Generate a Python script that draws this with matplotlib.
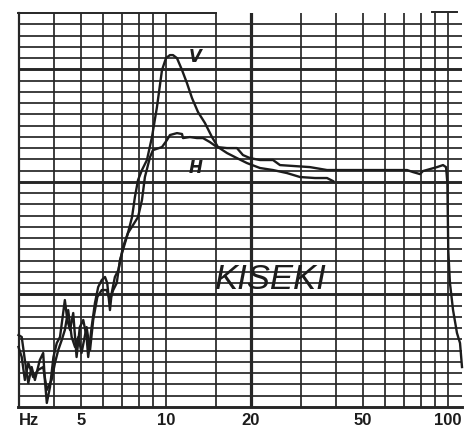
import matplotlib
matplotlib.use("Agg")
import matplotlib.pyplot as plt
import numpy as np

# ---------------- data ----------------
# Vertical (V) response: frequency (Hz), level (dB, relative)
v_freq = [3.0, 3.08, 3.16, 3.25, 3.34, 3.43, 3.57, 3.67, 3.72, 3.78, 3.88, 3.99,
          4.10, 4.21, 4.32, 4.38, 4.47, 4.57, 4.69, 4.76, 4.82, 4.95, 5.09, 5.23,
          5.30, 5.45, 5.60, 5.75, 5.92, 6.08, 6.19, 6.33, 6.42, 6.59, 6.78,
          6.87, 7.04, 7.33, 7.58, 7.76, 7.96, 8.22, 8.56, 8.92, 9.29, 9.68,
          10.0, 10.33, 10.59, 10.94, 11.40, 11.87, 12.37, 12.99, 13.75, 14.56,
          15.29, 16.46, 17.85, 19.37, 21.54, 23.96, 26.86, 29.87, 33.76, 37.24, 39.10]
v_level = [6.39, 6.22, 4.17, 2.13, 3.55, 2.40, 4.17, 4.80, 2.40, 0.36, 1.78, 4.44,
           5.68, 6.22, 8.35, 9.50, 7.73, 6.84, 8.35, 6.22, 4.44, 7.10, 7.73, 6.22,
           4.44, 7.10, 9.24, 10.66, 11.28, 11.55, 11.01, 8.61, 10.12, 11.55, 12.17,
           12.88, 14.21, 15.45, 16.87, 18.65, 20.16, 21.05, 21.94, 23.98, 26.64, 29.93,
           30.99, 31.26, 31.26, 30.99, 29.93, 28.77, 27.44, 26.20, 25.22, 23.98,
           23.09, 22.56, 22.11, 21.67, 21.23, 21.05, 20.78, 20.43, 20.34, 20.34, 20.07]

# Horizontal (H) response
h_freq = [3.0, 3.08, 3.16, 3.25, 3.38, 3.52, 3.67, 3.78, 3.93, 4.04, 4.15, 4.27,
          4.38, 4.50, 4.63, 4.76, 4.89, 5.02, 5.23, 5.38, 5.52, 5.71, 5.92, 6.16,
          6.33, 6.50, 6.69,
          6.87, 7.33, 7.64, 7.96, 8.22, 8.42, 8.78, 8.99, 9.68, 10.08, 10.33, 10.94,
          11.40, 11.49, 12.16, 12.88, 13.53, 14.32, 15.16, 16.46, 17.85, 18.75,
          19.86, 21.54, 23.96, 25.37, 32.40, 37.24, 71.55, 75.15, 79.55, 81.52,
          91.42, 96.0, 98.4, 99.5, 100.2, 101.6, 104.2, 107.6, 110.3, 112.1]
h_level = [5.33, 4.44, 2.40, 3.91, 2.66, 3.29, 3.55, 1.51, 2.40, 3.91, 5.06, 5.95,
           6.84, 8.61, 6.22, 5.33, 6.22, 4.80, 7.10, 5.06, 7.73, 9.77, 10.39, 10.39,
           9.50, 10.39, 11.01,
           13.05, 15.45, 16.16, 16.87, 18.38, 20.43, 22.20, 22.82, 23.09, 23.71, 24.16, 24.33,
           24.25, 23.89, 23.98, 23.89, 23.89, 23.53, 23.09, 23.00, 23.00, 22.38,
           22.11, 21.94, 21.94, 21.49, 21.31, 21.05, 21.05, 20.87, 20.69, 20.96,
           21.31, 21.49, 21.31, 19.89, 13.94, 11.01, 8.61, 6.57, 5.68, 3.55]

x_tick_values = [5, 10, 20, 50, 100]
x_tick_labels = ["5", "10", "20", "50", "100"]
x_unit_label = "Hz"
v_grid_freqs = [4, 5, 6, 7, 8, 9, 10, 15, 20, 30, 40, 50, 60, 70, 80, 90, 100]
v_grid_bold = [20]
h_grid_levels = list(range(1, 35))
h_grid_bold = [10, 20, 30]
brand_text = "KISEKI"

# ---------------- figure ----------------
W, H = 472, 428
fig = plt.figure(figsize=(W / 100, H / 100), dpi=100)
fig.patch.set_facecolor("white")
ax = fig.add_axes([18.5 / W, 21 / H, (462 - 18.5) / W, 394 / H])
ax.set_xscale("log")
ax.set_xlim(3.0, 112.1)
ax.set_ylim(0, 35)

ink = "#1c1c1c"
grid_ink = "#262626"

for lv in h_grid_levels:
    lw = 2.1 if lv in h_grid_bold else 1.25
    ax.axhline(lv, color=grid_ink, lw=lw, zorder=1)
for fq in v_grid_freqs:
    lw = 2.3 if fq in v_grid_bold else 1.25
    ax.axvline(fq, color=grid_ink, lw=lw, zorder=1)
# partial top border
ax.plot([3.0, 15], [35, 35], color=grid_ink, lw=1.4, clip_on=False, zorder=1)
ax.plot([88, 108], [35.1, 35.1], color=grid_ink, lw=1.4, clip_on=False, zorder=1)

ax.plot(v_freq, v_level, color=ink, lw=1.7, solid_joinstyle="round", zorder=3, clip_on=False)
ax.plot(h_freq, h_level, color=ink, lw=1.7, solid_joinstyle="round", zorder=3, clip_on=False)

for s in ["top", "right"]:
    ax.spines[s].set_visible(False)
ax.spines["left"].set_linewidth(1.6)
ax.spines["left"].set_color(grid_ink)
ax.spines["bottom"].set_linewidth(2.1)
ax.spines["bottom"].set_color(grid_ink)

ax.set_xticks([])
ax.set_xticks([], minor=True)
ax.set_yticks([])
ax.set_yticks([], minor=True)

tr = ax.get_xaxis_transform()
for fq, lab in zip(x_tick_values, x_tick_labels):
    ax.text(fq, -0.033, lab, transform=tr, ha="center", va="center",
            fontsize=12, fontweight="bold", family="Liberation Sans", color=ink)
ax.text(3.27, -0.033, x_unit_label, transform=tr, ha="center", va="center",
        fontsize=12, fontweight="bold", family="Liberation Sans", color=ink)

# handwritten labels
ax.text(12.67, 31.08, "V", ha="center", va="center", fontsize=12, fontstyle="italic",
        fontweight="bold", family="DejaVu Sans", color=ink, zorder=4)
ax.text(12.78, 21.23, "H", ha="center", va="center", fontsize=12, fontstyle="italic",
        fontweight="bold", family="DejaVu Sans", color=ink, zorder=4)
ax.text(23.57, 11.37, brand_text, ha="center", va="center", fontsize=25,
        fontstyle="italic", family="Liberation Sans", color=ink, zorder=4)

fig.savefig("out.png", dpi=100, facecolor="white")
